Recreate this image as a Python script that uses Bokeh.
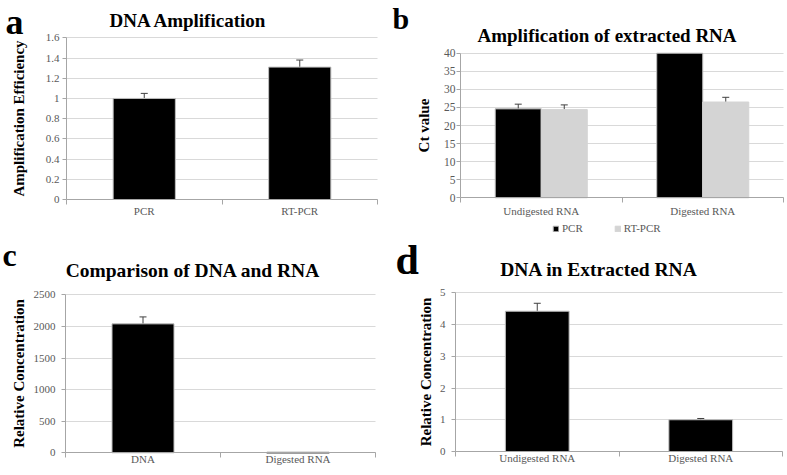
from bokeh.plotting import figure
from bokeh.layouts import column, row
from bokeh.models import (ColumnDataSource, Range1d, FixedTicker, Whisker, TeeHead,
                          Label, Legend, LegendItem, Grid)
from bokeh.embed import file_html
from bokeh.resources import INLINE

# ---------------- data ----------------
a_categories = ["PCR", "RT-PCR"]
a_values = [1.0, 1.31]
a_errors = [0.05, 0.07]
a_yticks = [0, 0.2, 0.4, 0.6, 0.8, 1.0, 1.2, 1.4, 1.6]
a_ylabels = ["0", "0.2", "0.4", "0.6", "0.8", "1", "1.2", "1.4", "1.6"]

b_categories = ["Undigested RNA", "Digested RNA"]
b_series = ["PCR", "RT-PCR"]
b_pcr = [24.6, 40.0]
b_pcr_err = [1.3, 0.0]
b_rtpcr = [24.4, 26.5]
b_rtpcr_err = [1.3, 1.3]
b_yticks = [0, 5, 10, 15, 20, 25, 30, 35, 40]
b_ylabels = ["0", "5", "10", "15", "20", "25", "30", "35", "40"]

c_categories = ["DNA", "Digested RNA"]
c_values = [2040, 1.0]
c_errors = [110, 0.0]
c_yticks = [0, 500, 1000, 1500, 2000, 2500]
c_ylabels = ["0", "500", "1000", "1500", "2000", "2500"]

d_categories = ["Undigested RNA", "Digested RNA"]
d_values = [4.42, 1.0]
d_errors = [0.25, 0.04]
d_yticks = [0, 1, 2, 3, 4, 5]
d_ylabels = ["0", "1", "2", "3", "4", "5"]

SERIF = "Liberation Serif"
TICK_COLOR = "#595959"
AXIS_COLOR = "#a6a6a6"
GRID_COLOR = "#d9d9d9"
BAR_LINE = "#bfbfbf"
ERR_COLOR = "#404040"
GRAY_BAR = "#d4d4d4"

HAS_CROSS = "cross_bounds" in Grid.properties()


def make_panel(W, H, box, cats, yticks, ylabels, ylabel, ylabel_size, ylabel_standoff,
               tick_size, tick_standoff, xlabel_standoff, texts):
    """box = (x_left, x_right, y_top, y_bottom) of the plotting area in figure pixels."""
    n = len(cats)
    ymax = yticks[-1]
    x0, x1, yt, yb = box
    kx = (x1 - x0) / n
    ky = (yb - yt) / ymax
    xr = Range1d(-x0 / kx, n + (W - x1) / kx)
    yr = Range1d(-(H - yb) / ky, ymax + yt / ky)
    p = figure(width=W, height=H, output_backend="svg", toolbar_location=None,
               title=None, x_range=xr, y_range=yr,
               min_border=0, min_border_left=0, min_border_right=0,
               min_border_top=0, min_border_bottom=0)
    p.outline_line_color = None
    p.xgrid.visible = False

    if HAS_CROSS:
        p.ygrid.ticker = FixedTicker(ticks=yticks)
        p.ygrid.bounds = (0, ymax)
        p.ygrid.cross_bounds = (0, n)
        p.ygrid.grid_line_color = GRID_COLOR
    else:
        p.ygrid.visible = False
        p.segment(x0=[0] * len(yticks), x1=[n] * len(yticks), y0=yticks, y1=yticks,
                  line_color=GRID_COLOR, line_width=1, level="underlay")

    centers = [i + 0.5 for i in range(n)]
    bounds = [i for i in range(n + 1)]
    xa = p.xaxis[0]
    xa.fixed_location = 0
    xa.bounds = (0, n)
    xa.ticker = FixedTicker(ticks=centers, minor_ticks=bounds)
    xa.major_label_overrides = {c: t for c, t in zip(centers, cats)}
    xa.major_tick_line_color = None
    xa.major_tick_out = 0
    xa.major_tick_in = 0
    xa.minor_tick_out = 5
    xa.minor_tick_in = 0
    xa.minor_tick_line_color = AXIS_COLOR
    xa.axis_line_color = AXIS_COLOR
    xa.major_label_text_font = SERIF
    xa.major_label_text_font_size = "11px"
    xa.major_label_text_color = TICK_COLOR
    xa.major_label_standoff = xlabel_standoff

    ya = p.yaxis[0]
    ya.fixed_location = 0
    ya.bounds = (0, ymax)
    ya.ticker = FixedTicker(ticks=yticks)
    ya.major_label_overrides = {t: l for t, l in zip(yticks, ylabels)}
    ya.minor_tick_line_color = None
    ya.major_tick_out = 4
    ya.major_tick_in = 0
    ya.major_tick_line_color = AXIS_COLOR
    ya.axis_line_color = AXIS_COLOR
    ya.major_label_text_font = SERIF
    ya.major_label_text_font_size = tick_size
    ya.major_label_text_color = TICK_COLOR
    ya.major_label_standoff = tick_standoff
    ya.axis_label = ylabel
    ya.axis_label_text_font = SERIF
    ya.axis_label_text_font_style = "bold"
    ya.axis_label_text_font_size = ylabel_size
    ya.axis_label_text_color = "black"
    ya.axis_label_standoff = ylabel_standoff

    for X, Y, text, size, align, baseline in texts:
        p.add_layout(Label(x=X, y=H - Y, x_units="screen", y_units="screen", text=text,
                           text_font=SERIF, text_font_style="bold", text_font_size=size,
                           text_color="black", text_align=align, text_baseline=baseline))
    return p, centers


def add_err(p, x, top, err, both):
    src = ColumnDataSource(dict(x=x, upper=[t + e for t, e in zip(top, err)],
                                lower=[t - e if both else t for t, e in zip(top, err)]))
    w = Whisker(base="x", upper="upper", lower="lower", source=src,
                line_color=ERR_COLOR, line_width=1,
                upper_head=TeeHead(size=7, line_color=ERR_COLOR, line_width=1),
                lower_head=TeeHead(size=7, line_color=ERR_COLOR, line_width=1) if both else None)
    p.add_layout(w)


# ---------------- panel a ----------------
pa, ca = make_panel(390, 235, (66, 377, 37.3, 199), a_categories, a_yticks, a_ylabels,
                    "Amplification Efficiency", "15px", 16, "11px", 3, 0,
                    [(5, 1, "a", "36px", "left", "top"),
                     (188, 20, "DNA Amplification", "19px", "center", "alphabetic")])
pa.vbar(x=ca, top=a_values, width=0.4, fill_color="black", line_color=BAR_LINE)
add_err(pa, ca, a_values, a_errors, False)

# ---------------- panel b ----------------
pb, cb = make_panel(396, 235, (70, 393, 52.7, 197.3), b_categories, b_yticks, b_ylabels,
                    "Ct value", "15px", 9, "11.5px", 1, 2,
                    [(2, 1, "b", "30px", "left", "top"),
                     (216.5, 35, "Amplification of extracted RNA", "19px", "center", "alphabetic")])
bw = 0.285
r1 = pb.vbar(x=[c - bw / 2 for c in cb], top=b_pcr, width=bw, fill_color="black", line_color=BAR_LINE)
r2 = pb.vbar(x=[c + bw / 2 for c in cb], top=b_rtpcr, width=bw, fill_color=GRAY_BAR, line_color=GRAY_BAR)
add_err(pb, [c - bw / 2 for c in cb][:1], b_pcr[:1], b_pcr_err[:1], False)
add_err(pb, [c + bw / 2 for c in cb], b_rtpcr, b_rtpcr_err, True)
leg = Legend(items=[LegendItem(label=b_series[0], renderers=[r1]),
                    LegendItem(label=b_series[1], renderers=[r2])],
             location=(162, 1), orientation="horizontal",
             glyph_width=7, glyph_height=7, label_height=12, label_standoff=3,
             spacing=31, padding=0, margin=0,
             label_text_font=SERIF, label_text_font_size="11px", label_text_color=TICK_COLOR,
             border_line_color=None, background_fill_alpha=0)
pb.add_layout(leg, "center")

# ---------------- panel c ----------------
pc, cc = make_panel(390, 239, (65, 375, 59.3, 217.3), c_categories, c_yticks, c_ylabels,
                    "Relative Concentration", "15px", 4, "11px", 6, -5,
                    [(2, 1, "c", "32px", "left", "top"),
                     (192.5, 35, "Comparison of DNA and RNA", "19.5px", "center", "alphabetic")])
pc.vbar(x=cc, top=c_values, width=0.4, fill_color="black",
        line_color=["#bfbfbf", "#7f7f7f"], line_width=[1, 2])
add_err(pc, cc[:1], c_values[:1], c_errors[:1], False)

# ---------------- panel d ----------------
pd_, cd = make_panel(396, 239, (65, 392, 57.3, 216), d_categories, d_yticks, d_ylabels,
                     "Relative Concentration", "15px", 3, "11px", 6, -5,
                     [(5, 1, "d", "42px", "left", "top"),
                      (208.5, 34, "DNA in Extracted RNA", "19.5px", "center", "alphabetic")])
pd_.vbar(x=cd, top=d_values, width=0.39, fill_color="black", line_color=BAR_LINE)
add_err(pd_, cd, d_values, d_errors, False)

layout = column(row(pa, pb), row(pc, pd_))
open("out.html", "w").write(file_html(layout, INLINE))
